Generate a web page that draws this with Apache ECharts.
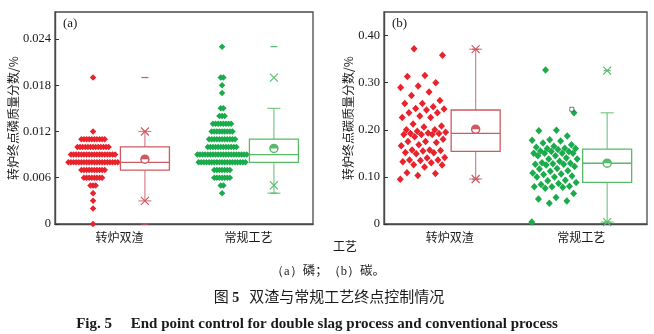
<!DOCTYPE html>
<html><head><meta charset="utf-8">
<script src="https://cdn.jsdelivr.net/npm/echarts@6/dist/echarts.min.js"></script>
<style>html,body{margin:0;padding:0;background:#fff}#c{width:654px;height:334px}</style>
</head><body><div id="c"></div>
<script>
// ---------------- data ----------------
const categories = ['转炉双渣', '常规工艺'];
// (a) end-point phosphorus: discrete levels and number of heats at each level
const pLevels      = [0.000,0.002,0.003,0.004,0.005,0.006,0.007,0.008,0.009,0.010,0.011,0.012,0.013,0.014,0.015,0.017,0.018,0.019,0.023];
const pCountDouble = [1,    1,    1,    1,    3,    8,    10,   20,   18,   13,   10,   1,    0,    0,    0,    0,    0,    1,    0];
const pCountConv   = [0,    0,    0,    1,    2,    7,    7,    19,   20,   12,   11,   9,    8,    3,    2,    1,    1,    2,    1];
// box statistics: [min, p1, whiskerLow, q1, median, q3, whiskerHigh, p99, max, mean]
const pStatsDouble = [0.000, 0.003, 0.003, 0.007, 0.008, 0.010, 0.012, 0.012, 0.019, 0.0084];
const pStatsConv   = [0.004, 0.005, 0.004, 0.008, 0.009, 0.011, 0.015, 0.019, 0.023, 0.0098];
// (b) end-point carbon values
const cDouble = [0.372,0.358,0.315,0.313,0.300,0.293,0.290,0.280,0.273,0.262,0.256,0.256,0.249,0.245,0.244,0.242,0.236,0.236,0.229,0.226,0.226,0.212,0.208,0.206,0.200,0.200,0.197,0.195,0.193,0.192,0.192,0.190,0.190,0.190,0.185,0.180,0.175,0.175,0.173,0.168,0.166,0.157,0.157,0.156,0.155,0.152,0.151,0.149,0.141,0.140,0.136,0.136,0.135,0.132,0.130,0.126,0.125,0.121,0.109,0.107,0.103,0.095];
const cConv   = [0.327,0.236,0.199,0.198,0.187,0.179,0.178,0.176,0.172,0.168,0.165,0.163,0.161,0.160,0.160,0.158,0.155,0.154,0.154,0.150,0.150,0.150,0.150,0.145,0.145,0.140,0.138,0.138,0.133,0.130,0.129,0.128,0.127,0.127,0.125,0.122,0.118,0.117,0.113,0.112,0.108,0.106,0.105,0.102,0.100,0.100,0.093,0.092,0.088,0.086,0.084,0.080,0.079,0.079,0.078,0.076,0.065,0.056,0.053,0.049,0.044,0.004];
const cStatsDouble = [0.095, 0.0955, 0.0955, 0.154, 0.1925, 0.242, 0.371, 0.371, 0.371, 0.201];
const cStatsConv   = [0.004, 0.004, 0.004, 0.0885, 0.129, 0.159, 0.236, 0.3255, 0.3255, 0.129];
const cStrayConv   = [0.2435];
const pTicks = [0, 0.006, 0.012, 0.018, 0.024];
const cTicks = [0, 0.10, 0.20, 0.30, 0.40];

// ---------------- layout / style ----------------
const RED = '#e8232c', GREEN = '#1aab4b';
const RED_BOX = '#cf5962', GREEN_BOX = '#58bb68';
const RED_WH = '#d5848b', GREEN_WH = '#79c888';
const GA = {left:55, top:12, width:258, height:212};
const GB = {left:384, top:12, width:263, height:212};
const CAT_PX_A = GA.width / 2, CAT_PX_B = GB.width / 2;
const SC_OFF = -0.205, BOX_OFF = 0.197;
const ROW_STEP = 2.6, JIT = 23;
const serif = 'Liberation Serif, Times New Roman, serif';
const cjk = 'Noto Sans CJK SC, sans-serif';

function rowSwarm(levels, counts, ci) {
  const out = [];
  levels.forEach((lv, i) => {
    const n = counts[i];
    for (let k = 0; k < n; k++) out.push([ci + SC_OFF + (k - (n - 1) / 2) * ROW_STEP / CAT_PX_A, lv]);
  });
  return out;
}
function jitter(vals, ci) {
  return vals.map((v, i) => {
    const f = ((i * 0.6180339887 + 0.31) % 1) - 0.5;
    return [ci + SC_OFF + f * 2 * JIT / CAT_PX_B, v];
  });
}
function boxRender(color, wc) {
  return function (params, api) {
    const x = api.value(0);
    const Y = i => api.coord([x, api.value(i)])[1];
    const cx = api.coord([x, api.value(1)])[0];
    const [yMin, yP1, yWl, yQ1, yMed, yQ3, yWh, yP99, yMax, yMean] = [1,2,3,4,5,6,7,8,9,10].map(Y);
    const hw = 24.5, cap = 6.5, xs = 4, dash = 3.5;
    const L = (x1, y1, x2, y2, c, w) => ({type:'line', shape:{x1, y1, x2, y2}, style:{stroke:c, lineWidth:w}});
    const ch = [];
    ch.push(L(cx, yQ3, cx, yWh, wc, 1.2), L(cx, yQ1, cx, yWl, wc, 1.2));
    ch.push(L(cx - cap, yWh, cx + cap, yWh, wc, 1.2), L(cx - cap, yWl, cx + cap, yWl, wc, 1.2));
    ch.push({type:'rect', shape:{x:cx - hw, y:yQ3, width:2 * hw, height:yQ1 - yQ3}, style:{fill:'none', stroke:color, lineWidth:1.3}});
    ch.push(L(cx - hw, yMed, cx + hw, yMed, color, 1.3));
    [yP1, yP99].forEach(yy => ch.push(L(cx - xs, yy - xs, cx + xs, yy + xs, color, 1.1), L(cx - xs, yy + xs, cx + xs, yy - xs, color, 1.1)));
    [yMin, yMax].forEach(yy => ch.push(L(cx - dash, yy, cx + dash, yy, color, 1.2)));
    ch.push({type:'circle', shape:{cx, cy:yMean, r:4}, style:{fill:'#fff', stroke:color, lineWidth:1.5}});
    ch.push({type:'sector', shape:{cx, cy:yMean, r:4, r0:0, startAngle:Math.PI, endAngle:2 * Math.PI}, style:{fill:color}});
    return {type:'group', children:ch};
  };
}
function boxSeries(stats, ci, gi, color, wc) {
  return {type:'custom', xAxisIndex:gi * 2 + 1, yAxisIndex:gi, z:5,
    renderItem: boxRender(color, wc),
    encode:{x:0, y:[1,2,3,4,5,6,7,8,9,10]},
    data:[[ci + BOX_OFF].concat(stats)]};
}
function scatter(data, gi, color, size) {
  return {type:'scatter', xAxisIndex:gi * 2 + 1, yAxisIndex:gi, symbol:'diamond', symbolSize:size,
    itemStyle:{color:color, opacity:1}, data:data, silent:true};
}
function catAxis(gi) {
  return {type:'category', gridIndex:gi, data:categories, boundaryGap:true,
    axisTick:{inside:true, alignWithLabel:true, length:4, lineStyle:{color:'#333'}},
    axisLine:{onZero:false, lineStyle:{color:'#4a4a4a', width:1.4}},
    axisLabel:{fontFamily:cjk, fontSize:12, color:'#1a1a1a', margin:7}};
}
function valXAxis(gi) { return {type:'value', gridIndex:gi, min:-0.5, max:1.5, show:false}; }
function yAxis(gi, max, interval, name, dec, gap) {
  return {type:'value', gridIndex:gi, min:0, max:max, interval:interval,
    name:name, nameLocation:'middle', nameGap:gap,
    nameTextStyle:{fontFamily:cjk, fontSize:12, color:'#1a1a1a'},
    axisLine:{show:true, onZero:false, lineStyle:{color:'#4a4a4a', width:1.4}},
    axisTick:{show:true, inside:true, length:4, lineStyle:{color:'#333'}},
    splitLine:{show:false},
    axisLabel:{fontFamily:serif, fontSize:12.5, color:'#1a1a1a', margin:4, showMaxLabel:false,
      formatter: v => v === 0 ? '0' : v.toFixed(dec)}};
}

const option = {
  animation:false,
  backgroundColor:'#fff',
  grid:[Object.assign({show:true, borderColor:'#4a4a4a', borderWidth:1.3}, GA),
        Object.assign({show:true, borderColor:'#4a4a4a', borderWidth:1.3}, GB)],
  xAxis:[catAxis(0), valXAxis(0), catAxis(1), valXAxis(1)],
  yAxis:[yAxis(0, 0.0275, pTicks[1] - pTicks[0], '转炉终点磷质量分数/%', 3, 36),
         yAxis(1, 0.45, cTicks[1] - cTicks[0], '转炉终点碳质量分数/%', 2, 29)],
  series:[
    scatter(rowSwarm(pLevels, pCountDouble, 0), 0, RED, [6.5, 6.5]),
    scatter(rowSwarm(pLevels, pCountConv, 1), 0, GREEN, [6.5, 6.5]),
    boxSeries(pStatsDouble, 0, 0, RED_BOX, RED_WH),
    boxSeries(pStatsConv, 1, 0, GREEN_BOX, GREEN_WH),
    scatter(jitter(cDouble, 0), 1, RED, [7, 7.5]),
    scatter(jitter(cConv, 1), 1, GREEN, [7, 7.5]),
    boxSeries(cStatsDouble, 0, 1, RED_BOX, RED_WH),
    boxSeries(cStatsConv, 1, 1, GREEN_BOX, GREEN_WH),
    {type:'scatter', xAxisIndex:3, yAxisIndex:1, symbol:'rect', symbolSize:4,
     itemStyle:{color:'#fff', borderColor:'#333', borderWidth:0.8},
     data: cStrayConv.map(v => [1 - 0.072, v])}
  ],
  graphic:[
    {type:'text', left:63, top:17, style:{text:'(a)', font:'13px ' + serif, fill:'#1a1a1a'}},
    {type:'text', left:392, top:17, style:{text:'(b)', font:'13px ' + serif, fill:'#1a1a1a'}},
    {type:'text', left:333, top:240, style:{text:'工艺', font:'12px ' + cjk, fill:'#1a1a1a'}},
    {type:'text', x:328, y:272, style:{text:'{s|（a）}{c|磷；}{s|（b）}{c|碳。}', align:'center', verticalAlign:'middle',
      rich:{s:{font:'12.5px ' + serif, fill:'#1a1a1a'}, c:{font:'12.5px ' + cjk, fill:'#1a1a1a', padding:[0,0,4,0]}}}},
    {type:'text', x:329, y:296, style:{text:'{a|图 }{b|5}{a|   双渣与常规工艺终点控制情况}', align:'center', verticalAlign:'middle',
      rich:{a:{font:'15px ' + cjk, fill:'#1a1a1a'}, b:{font:'bold 14px ' + serif, fill:'#1a1a1a', padding:[5,0,0,0]}}}},
    {type:'text', x:317, y:324, style:{text:'Fig. 5     End point control for double slag process and conventional process', font:'bold 15px ' + serif, fill:'#1a1a1a', align:'center', verticalAlign:'middle'}}
  ]
};
const chart = echarts.init(document.getElementById('c'), null, {renderer:'canvas'});
chart.setOption(option);
</script>
</body></html>
